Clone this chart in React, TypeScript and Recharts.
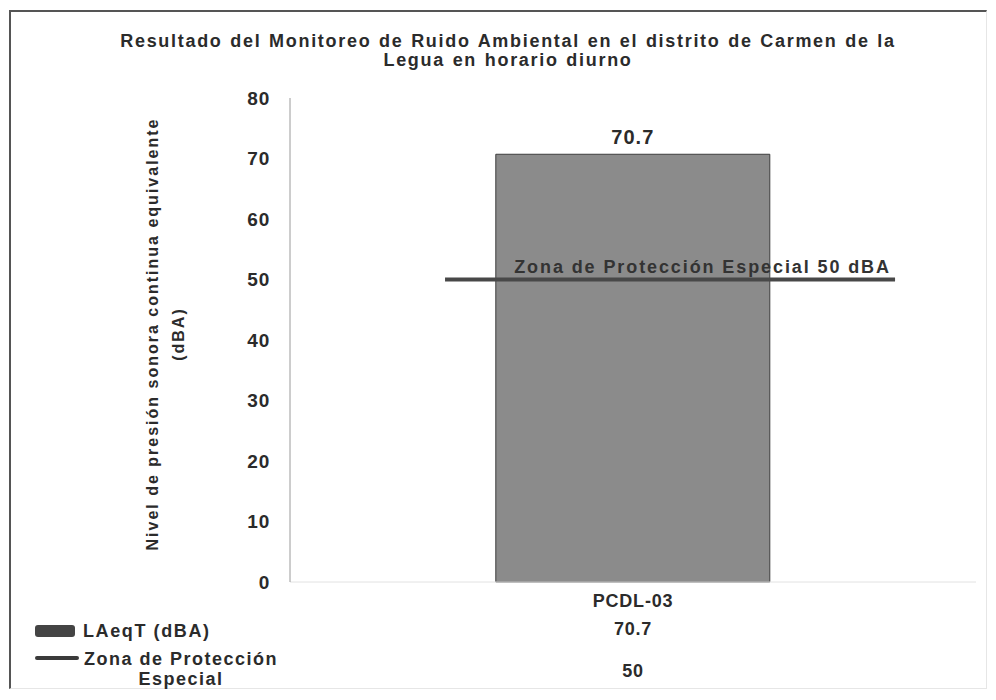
import React from "react";
import {
  BarChart,
  Bar,
  XAxis,
  YAxis,
  ReferenceLine,
  LabelList,
  Label,
} from "recharts";

const stations = ["PCDL-03"];
const laeqValues = [70.7];
const limitValues = [50];
const yTicks = [0, 10, 20, 30, 40, 50, 60, 70, 80];

const seriesBarName = "LAeqT (dBA)";
const seriesLineName = ["Zona de Protección", "Especial"];
const limitLabel = "Zona de Protección Especial 50 dBA";
const chartTitle = [
  "Resultado del Monitoreo de Ruido Ambiental en el distrito de Carmen de la",
  "Legua en horario diurno",
];
const yTitle = ["Nivel de presión sonora continua equivalente", "(dBA)"];

const data = stations.map((s, i) => ({
  station: s,
  laeq: laeqValues[i],
  limit: limitValues[i],
}));

const FONT = "'Liberation Sans', Arial, sans-serif";
const TEXT = "#2b2b2b";

// the limit line in the original only covers part of the plot width
const LINE_FROM = 0.226;
const LINE_TO = 0.882;

// data table under the category: name, then the value of each series
const TableTick = (props: any) => {
  const { x, y, payload, index } = props;
  const row = data[index] ?? data[0];
  const common = {
    x,
    textAnchor: "middle" as const,
    dominantBaseline: "central" as const,
    fontFamily: FONT,
    fontWeight: "bold",
    fontSize: 18,
    letterSpacing: 0.8,
    fill: TEXT,
  };
  return (
    <g>
      <text {...common} y={y + 11}>{payload.value}</text>
      <text {...common} y={y + 39}>{row.laeq}</text>
      <text {...common} y={y + 81}>{row.limit}</text>
    </g>
  );
};

const YTitle = (props: any) => {
  const { viewBox } = props;
  const cy = viewBox.y + viewBox.height / 2 - 6;
  return (
    <g>
      {yTitle.map((t, i) => {
        const x = 141 + i * 26;
        return (
          <text key={t} x={x} y={cy} transform={`rotate(-90 ${x} ${cy})`}
            textAnchor="middle" dominantBaseline="central" fontFamily={FONT}
            fontWeight="bold" fontSize={16} letterSpacing={2} fill={TEXT}>
            {t}
          </text>
        );
      })}
    </g>
  );
};

const LimitShape = (props: any) => {
  const { x1, x2, y1, y2 } = props;
  const w = x2 - x1;
  return (
    <line x1={x1 + w * LINE_FROM} x2={x1 + w * LINE_TO} y1={y1} y2={y2}
      stroke="#484848" strokeWidth={4} />
  );
};

const LimitLabel = (props: any) => {
  const { viewBox } = props;
  return (
    <text x={viewBox.x + viewBox.width * (LINE_TO - 0.006)} y={viewBox.y - 13}
      textAnchor="end" dominantBaseline="central" fontFamily={FONT}
      fontWeight="bold" fontSize={18} letterSpacing={1.9} fill="#333">
      {limitLabel}
    </text>
  );
};

export default function App() {
  return (
    <div
      style={{
        position: "relative",
        width: 975,
        height: 676,
        marginTop: 2,
        marginLeft: 1,
        borderLeft: "2px solid #555",
        borderTop: "2px solid #555",
        borderRight: "1px solid #e6e6e6",
        borderBottom: "1px solid #e6e6e6",
        background: "#fff",
        fontFamily: FONT,
      }}
    >
      <div
        style={{
          position: "absolute",
          top: 20,
          left: 0,
          width: 994,
          textAlign: "center",
          fontSize: 18,
          lineHeight: "19px",
          fontWeight: "bold",
          letterSpacing: 1.7,
          wordSpacing: 1,
          color: TEXT,
        }}
      >
        {chartTitle.map((t) => (
          <div key={t}>{t}</div>
        ))}
      </div>

      <BarChart
        width={966}
        height={675}
        data={data}
        margin={{ top: 86, right: 1, left: 0, bottom: 0 }}
        barCategoryGap="30%"
      >
        <XAxis
          dataKey="station"
          height={105}
          tickLine={false}
          axisLine={{ stroke: "#e2e2e2" }}
          tick={<TableTick />}
          interval={0}
        />
        <YAxis
          width={279}
          domain={[0, 80]}
          ticks={yTicks}
          interval={0}
          tickLine={false}
          tickSize={0}
          tickMargin={20}
          axisLine={{ stroke: "#9a9a9a" }}
          tick={{ fontFamily: FONT, fontWeight: "bold", fontSize: 19, letterSpacing: 0.8, fill: TEXT }}
        >
          <Label content={<YTitle />} />
        </YAxis>
        <Bar
          dataKey="laeq"
          fill="#8b8b8b"
          stroke="#3c3c3c"
          strokeWidth={1}
          isAnimationActive={false}
        >
          <LabelList
            dataKey="laeq"
            position="top"
            offset={10}
            style={{ fontFamily: FONT, fontWeight: "bold", fontSize: 20, letterSpacing: 1, fill: TEXT }}
          />
        </Bar>
        <ReferenceLine
          y={limitValues[0]}
          shape={<LimitShape />}
          label={<LimitLabel />}
        />
      </BarChart>

      <div style={{ position: "absolute", left: 24, top: 613, width: 40, height: 12, background: "#444", borderRadius: 3 }} />
      <div style={{ position: "absolute", left: 72, top: 607, fontSize: 18, lineHeight: "24px", fontWeight: "bold", letterSpacing: 1.6, color: TEXT, whiteSpace: "nowrap" }}>
        {seriesBarName}
      </div>
      <div style={{ position: "absolute", left: 24, top: 644, width: 44, height: 4, background: "#3a3a3a", borderRadius: 2 }} />
      <div style={{ position: "absolute", left: 69, top: 637, width: 202, textAlign: "center", fontSize: 18, lineHeight: "20px", fontWeight: "bold", letterSpacing: 1.5, color: TEXT, whiteSpace: "nowrap" }}>
        {seriesLineName.map((t) => (
          <div key={t}>{t}</div>
        ))}
      </div>
    </div>
  );
}
